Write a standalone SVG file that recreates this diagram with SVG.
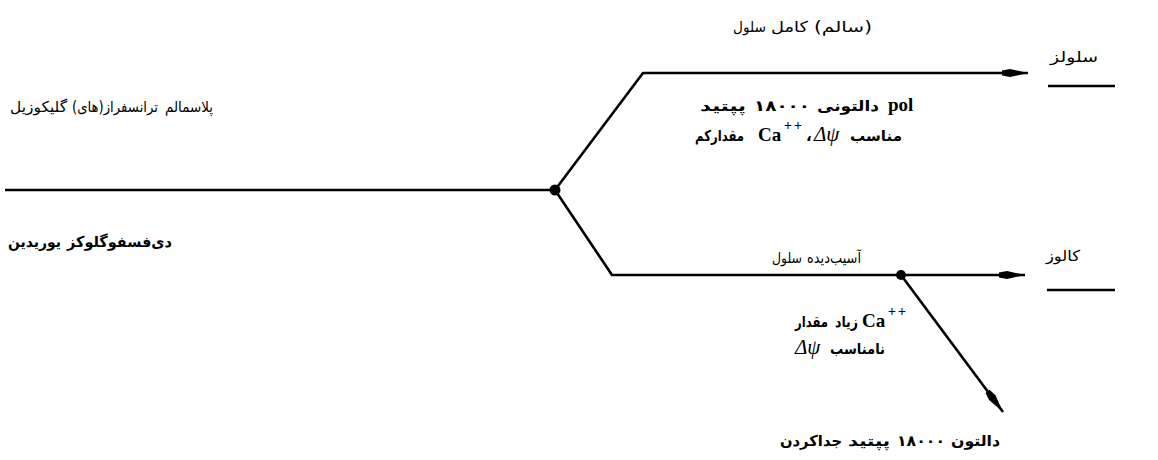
<svg xmlns="http://www.w3.org/2000/svg" width="1158" height="460" viewBox="0 0 1158 460">
<style>
.ln{fill:none;stroke:#000;stroke-width:2.6;stroke-linejoin:round}
.fa{font-family:"DejaVu Sans",sans-serif;fill:#000}
.r{font-size:15px}
.b{font-size:15px;font-weight:bold}
.lat{font-family:"Liberation Serif",serif;font-weight:bold;font-size:19px;fill:#000}
.gk{font-family:"Liberation Serif",serif;font-style:italic;font-size:21px;fill:#000}
.sup{font-family:"Liberation Serif",serif;font-weight:bold;font-size:14px;fill:#000;letter-spacing:2px}
</style>
<defs>
<marker id="ah" markerUnits="userSpaceOnUse" markerWidth="30" markerHeight="12" refX="26" refY="6" orient="auto">
<path d="M0,3.5 L8,2 L26,6 L8,10 L0,8.5 Z" fill="#000"/>
</marker>
</defs>
<g id="connectors">
<line class="ln" x1="5" y1="190" x2="555" y2="190"/>
<polyline class="ln" points="555,190 643,73 1028,73" marker-end="url(#ah)"/>
<polyline class="ln" points="555,190 612,275 1025,275" marker-end="url(#ah)"/>
<line class="ln" x1="901" y1="275" x2="1003" y2="412" marker-end="url(#ah)"/>
<circle cx="555" cy="190" r="5.5" fill="#000"/>
<circle cx="901" cy="275" r="5" fill="#000"/>
</g>
<g id="substrate">
<text class="fa r" x="10" y="112" textLength="57" lengthAdjust="spacingAndGlyphs">گلیکوزیل</text>
<text class="fa r" x="72" y="112" textLength="86" lengthAdjust="spacingAndGlyphs">ترانسفراز(های)</text>
<text class="fa r" x="165" y="112" textLength="48" lengthAdjust="spacingAndGlyphs">پلاسمالم</text>
<text class="fa b" x="8" y="247" textLength="53" lengthAdjust="spacingAndGlyphs">یوریدین</text>
<text class="fa b" x="67" y="247" textLength="105" lengthAdjust="spacingAndGlyphs">دی‌فسفوگلوکز</text>
</g>
<g id="intact">
<text class="fa r" x="733" y="32" textLength="33" lengthAdjust="spacingAndGlyphs">سلول</text>
<text class="fa r" x="771" y="32" textLength="37" lengthAdjust="spacingAndGlyphs">کامل</text>
<text class="fa r" x="814" y="32" textLength="58" lengthAdjust="spacingAndGlyphs">(سالم)</text>
<text class="fa b" x="700" y="111" textLength="46" lengthAdjust="spacingAndGlyphs">پپتید</text>
<text class="fa b" x="754" y="111" textLength="56" lengthAdjust="spacingAndGlyphs">۱۸۰۰۰</text>
<text class="fa b" x="817" y="111" textLength="62" lengthAdjust="spacingAndGlyphs">دالتونی</text>
<text class="lat" x="888" y="111">pol</text>
<text class="fa b" x="695" y="141" textLength="49" lengthAdjust="spacingAndGlyphs">مقدارکم</text>
<text class="lat" x="758" y="141">Ca</text>
<text class="sup" x="784" y="130">++</text>
<text class="fa b" x="806" y="141">،</text>
<text class="gk" x="814" y="141">Δψ</text>
<text class="fa b" x="850" y="141" textLength="52" lengthAdjust="spacingAndGlyphs">مناسب</text>
</g>
<g id="cellulose">
<text class="fa r" x="1050" y="62" textLength="48" lengthAdjust="spacingAndGlyphs">سلولز</text>
<line class="ln" x1="1048" y1="86" x2="1115" y2="86"/>
</g>
<g id="damaged">
<text class="fa r" x="772" y="263" textLength="30" lengthAdjust="spacingAndGlyphs">سلول</text>
<text class="fa r" x="807" y="263" textLength="54" lengthAdjust="spacingAndGlyphs">آسیب‌دیده</text>
<text class="fa b" x="795" y="327" textLength="33" lengthAdjust="spacingAndGlyphs">مقدار</text>
<text class="fa b" x="835" y="327" textLength="23" lengthAdjust="spacingAndGlyphs">زیاد</text>
<text class="lat" x="862" y="327">Ca</text>
<text class="sup" x="888" y="316">++</text>
<text class="gk" x="795" y="354">Δψ</text>
<text class="fa b" x="830" y="354" textLength="55" lengthAdjust="spacingAndGlyphs">نامناسب</text>
</g>
<g id="callose">
<text class="fa r" x="1046" y="261" textLength="34" lengthAdjust="spacingAndGlyphs">کالوز</text>
<line class="ln" x1="1047" y1="290" x2="1115" y2="290"/>
</g>
<g id="cleavage">
<text class="fa b" x="780" y="446" textLength="62" lengthAdjust="spacingAndGlyphs">جداکردن</text>
<text class="fa b" x="848" y="446" textLength="42" lengthAdjust="spacingAndGlyphs">پپتید</text>
<text class="fa b" x="897" y="446" textLength="48" lengthAdjust="spacingAndGlyphs">۱۸۰۰۰</text>
<text class="fa b" x="951" y="446" textLength="49" lengthAdjust="spacingAndGlyphs">دالتون</text>
</g>
</svg>
